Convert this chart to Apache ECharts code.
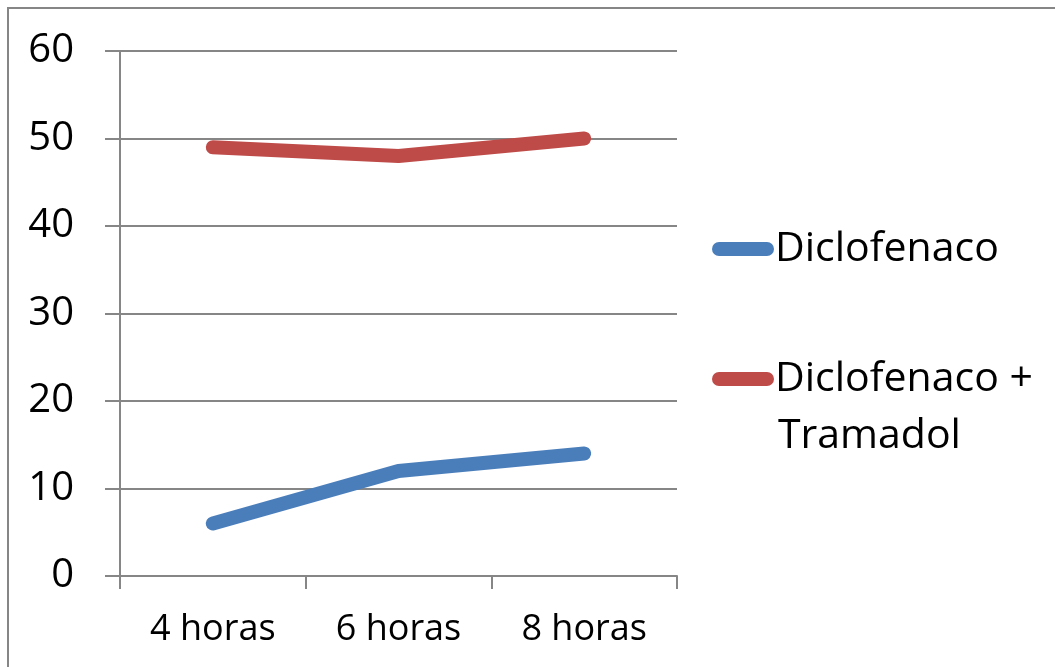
<!DOCTYPE html>
<html>
<head>
<meta charset="utf-8">
<script src="https://cdn.jsdelivr.net/npm/echarts@6/dist/echarts.min.js"></script>
<style>
  html, body { margin: 0; padding: 0; background: #ffffff; }
  #chart { width: 1055px; height: 667px; }
</style>
</head>
<body>
<div id="chart"></div>
<script>
// Chart data
const categories = ['4 horas', '6 horas', '8 horas'];
const diclofenaco = [6, 12, 14];
const diclofenacoTramadol = [49, 48, 50];
const seriesNames = ['Diclofenaco', 'Diclofenaco + Tramadol'];
const yTicks = { min: 0, max: 60, interval: 10 };

const FONT = '"Open Sans", "Liberation Sans", sans-serif';
const GRAY = '#868686';
const BLUE = '#4a7ebb';
const RED = '#be4b48';

// pill-shaped legend marker, 62 x 14
const pill = 'path://M7,0 L55,0 A7,7 0 0 1 55,14 L7,14 A7,7 0 0 1 7,0 Z';

const chart = echarts.init(document.getElementById('chart'), null, { renderer: 'canvas' });

chart.setOption({
  backgroundColor: '#ffffff',
  animation: false,
  grid: { left: 120, top: 51, width: 557, height: 525, containLabel: false },
  xAxis: {
    type: 'category',
    data: categories,
    boundaryGap: true,
    axisLine: { lineStyle: { color: GRAY, width: 2 } },
    axisTick: { show: true, length: 13, lineStyle: { color: GRAY, width: 2 } },
    axisLabel: { color: '#000000', fontFamily: FONT, fontSize: 36, margin: 36 },
    splitLine: { show: false }
  },
  yAxis: {
    type: 'value',
    min: yTicks.min,
    max: yTicks.max,
    interval: yTicks.interval,
    axisLine: { show: true, lineStyle: { color: GRAY, width: 2 } },
    axisTick: { show: true, length: 15, lineStyle: { color: GRAY, width: 2 } },
    axisLabel: { color: '#000000', fontFamily: FONT, fontSize: 40, margin: 46 },
    splitLine: { show: true, lineStyle: { color: GRAY, width: 2 } }
  },
  legend: {
    orient: 'vertical',
    left: 707,
    top: 221,
    itemWidth: 62,
    itemHeight: 14,
    itemGap: 84,
    icon: pill,
    symbolKeepAspect: false,
    data: seriesNames,
    formatter: function (name) {
      return name === seriesNames[1] ? 'Diclofenaco +' : name;
    },
    textStyle: { color: '#000000', fontFamily: FONT, fontSize: 41, lineHeight: 46, padding: [0, 0, 0, -4] }
  },
  graphic: [
    {
      type: 'rect',
      silent: true,
      shape: { x: 8, y: 8, width: 1200, height: 800 },
      style: { fill: 'none', stroke: GRAY, lineWidth: 2 }
    },
    {
      type: 'text',
      left: 778,
      top: 416,
      silent: true,
      style: { text: 'Tramadol', fill: '#000000', font: '41px ' + FONT }
    }
  ],
  series: [
    {
      name: seriesNames[0],
      type: 'line',
      data: diclofenaco,
      symbol: 'none',
      color: BLUE,
      lineStyle: { color: BLUE, width: 14, cap: 'round', join: 'round' }
    },
    {
      name: seriesNames[1],
      type: 'line',
      data: diclofenacoTramadol,
      symbol: 'none',
      color: RED,
      lineStyle: { color: RED, width: 14, cap: 'round', join: 'round' }
    }
  ]
});
</script>
</body>
</html>
